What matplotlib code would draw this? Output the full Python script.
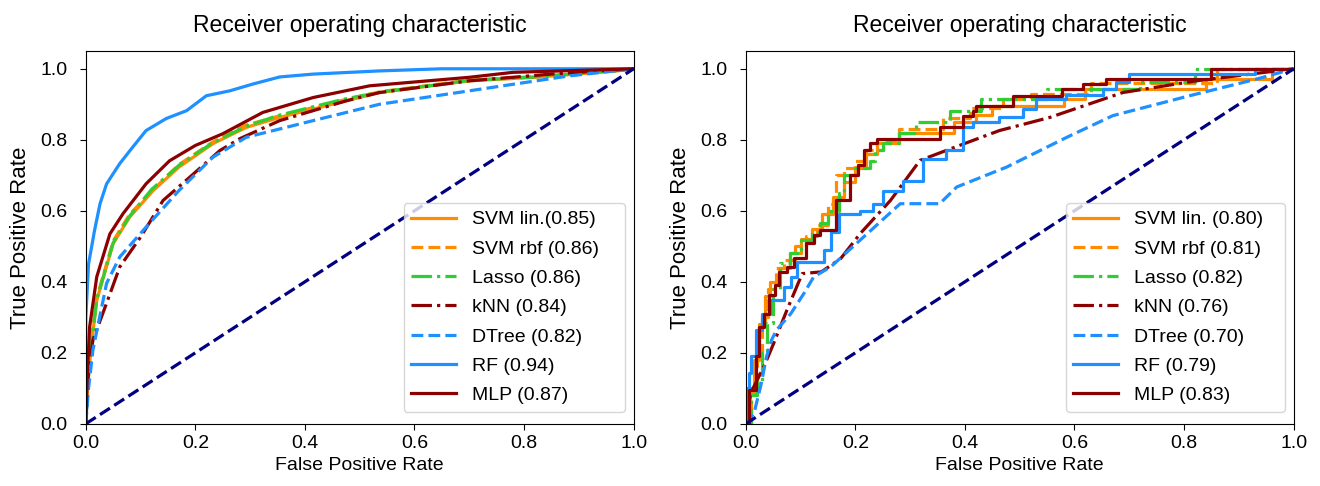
import numpy as np
import matplotlib
matplotlib.use('Agg')
import matplotlib.pyplot as plt

plt.rcParams['font.family'] = ['Liberation Sans', 'DejaVu Sans']

title = 'Receiver operating characteristic'

# ---- left panel: (fpr, tpr) ----
left_labels = ['SVM lin.(0.85)', 'SVM rbf (0.86)', 'Lasso (0.86)', 'kNN (0.84)',
               'DTree (0.82)', 'RF (0.94)', 'MLP (0.87)']

left_svm_lin_fpr = [0, .003, .01, .02, .05, .08, .123, .17, .232, .293, .354, .476, .536, .7, .82, .97, 1]
left_svm_lin_tpr = [0, .1, .22, .348, .508, .582, .657, .723, .789, .835, .863, .91, .933, .966, .976, .994, 1]
left_svm_rbf_fpr = [0, .003, .01, .02, .05, .08, .125, .17, .23, .29, .35, .47, .54, .7, .82, .97, 1]
left_svm_rbf_tpr = [0, .11, .23, .355, .515, .59, .662, .73, .792, .84, .866, .912, .936, .968, .978, .995, 1]
left_lasso_fpr = [0, .003, .01, .02, .05, .08, .12, .17, .23, .29, .35, .47, .54, .7, .82, .97, 1]
left_lasso_tpr = [0, .1, .22, .35, .51, .585, .66, .728, .79, .836, .868, .914, .935, .967, .977, .995, 1]
left_knn_fpr = [0, .005, .013, .038, .062, .1, .141, .19, .245, .281, .354, .476, .536, .7, .85, 1]
left_knn_tpr = [0, .15, .236, .34, .442, .526, .629, .695, .77, .803, .854, .91, .933, .966, .985, 1]
left_dtree_fpr = [0, .005, .013, .038, .062, .11, .17, .232, .293, .415, .536, .64, .761, .883, 1]
left_dtree_tpr = [0, .1, .208, .396, .47, .554, .657, .751, .807, .854, .9, .924, .952, .98, 1]
left_rf_fpr = [0, 0, .005, .016, .026, .038, .062, .086, .11, .147, .184, .22, .263, .305, .354, .415, .536, .65, 1]
left_rf_tpr = [0, .3, .45, .545, .62, .676, .733, .78, .826, .86, .882, .924, .938, .957, .977, .985, .994, 1, 1]
left_mlp_fpr = [0, .003, .007, .02, .044, .068, .11, .153, .2, .25, .323, .415, .518, .7, .78, 1]
left_mlp_tpr = [0, .15, .273, .414, .535, .592, .676, .741, .784, .817, .877, .919, .952, .976, .99, 1]

# ---- right panel: step points (fpr where tpr jumps, new tpr) ----
right_labels = ['SVM lin. (0.80)', 'SVM rbf (0.81)', 'Lasso (0.82)', 'kNN (0.76)',
                'DTree (0.70)', 'RF (0.79)', 'MLP (0.83)']

right_svm_lin_fpr = [0, .008, .015, .025, .035, .045, .06, .08, .1, .12, .14, .16, .18, .2, .22, .24, .28, .38, .42, .45, .58, .62, .84, .96, 1]
right_svm_lin_tpr = [0, .08, .18, .28, .36, .40, .44, .48, .52, .55, .59, .64, .68, .72, .76, .79, .82, .85, .87, .896, .915, .943, .97, 1, 1]
right_svm_rbf_fpr = [0, .01, .02, .03, .04, .055, .07, .09, .11, .13, .15, .165, .18, .2, .22, .25, .28, .36, .41, .47, .52, .63, .86, 1]
right_svm_rbf_tpr = [0, .1, .2, .3, .38, .44, .46, .5, .53, .56, .62, .7, .72, .74, .77, .8, .83, .86, .89, .915, .93, .96, 1, 1]
right_lasso_fpr = [0, .01, .02, .03, .038, .05, .062, .08, .1, .12, .135, .15, .17, .18, .2, .226, .235, .25, .28, .31, .372, .43, .55, .72, .82, 1]
right_lasso_tpr = [0, .08, .115, .2, .284, .38, .452, .48, .517, .54, .565, .6, .65, .7, .72, .74, .77, .79, .82, .85, .88, .915, .943, .962, 1, 1]
right_knn_fpr = [0, .005, .009, .033, .051, .075, .103, .138, .173, .209, .264, .318, .39, .463, .555, .688, .822, 1]
right_knn_tpr = [0, .05, .087, .161, .227, .32, .423, .428, .465, .536, .629, .742, .784, .826, .863, .933, .966, 1]
right_dtree_fpr = [0, .015, .027, .038, .047, .056, .082, .106, .124, .155, .202, .282, .354, .385, .476, .59, .67, .81, .93, 1]
right_dtree_tpr = [0, .03, .105, .19, .236, .264, .31, .367, .414, .442, .508, .62, .62, .667, .723, .81, .868, .924, .97, 1]
right_rf_fpr = [0, .003, .005, .01, .018, .03, .045, .069, .082, .094, .142, .155, .17, .209, .232, .25, .287, .323, .366, .396, .415, .463, .506, .53, .585, .652, .676, .70, .93, 1]
right_rf_tpr = [0, .1, .143, .19, .264, .31, .348, .386, .414, .456, .489, .54, .592, .6, .62, .657, .685, .747, .77, .835, .849, .863, .887, .915, .926, .943, .962, .985, 1, 1]
right_mlp_fpr = [0, .005, .018, .024, .033, .042, .054, .06, .075, .088, .109, .124, .136, .165, .19, .205, .215, .226, .24, .354, .397, .415, .421, .488, .578, .615, .658, .85, 1]
right_mlp_tpr = [0, .095, .19, .273, .31, .362, .39, .428, .442, .466, .508, .531, .545, .63, .70, .73, .77, .79, .802, .835, .868, .882, .896, .924, .943, .957, .971, 1, 1]

styles = [dict(color='darkorange', linestyle='-'),
          dict(color='darkorange', linestyle='--'),
          dict(color='limegreen', linestyle='-.'),
          dict(color='darkred', linestyle='-.'),
          dict(color='dodgerblue', linestyle='--'),
          dict(color='dodgerblue', linestyle='-'),
          dict(color='darkred', linestyle='-')]

left_curves = [(left_svm_lin_fpr, left_svm_lin_tpr), (left_svm_rbf_fpr, left_svm_rbf_tpr),
               (left_lasso_fpr, left_lasso_tpr), (left_knn_fpr, left_knn_tpr),
               (left_dtree_fpr, left_dtree_tpr), (left_rf_fpr, left_rf_tpr),
               (left_mlp_fpr, left_mlp_tpr)]
right_curves = [(right_svm_lin_fpr, right_svm_lin_tpr), (right_svm_rbf_fpr, right_svm_rbf_tpr),
                (right_lasso_fpr, right_lasso_tpr), (right_knn_fpr, right_knn_tpr),
                (right_dtree_fpr, right_dtree_tpr), (right_rf_fpr, right_rf_tpr),
                (right_mlp_fpr, right_mlp_tpr)]
# kNN and DTree on the right are drawn as straight segments, the rest as steps
right_steps = [True, True, True, False, False, True, True]

fig = plt.figure(figsize=(13.2, 4.86), dpi=100)
ax1 = fig.add_axes([0.065, 0.128, 0.415, 0.767])
ax2 = fig.add_axes([0.565, 0.128, 0.415, 0.767])


def draw_panel(ax, curves, labels, steps, legend_box):
    for (fpr, tpr), lab, st, stp in zip(curves, labels, styles, steps):
        ax.plot(fpr, tpr, lw=2.3, label=lab, drawstyle='steps-post' if stp else 'default', **st)
    ax.plot([0, 1], [0, 1], color='navy', lw=2.3, linestyle='--')
    ax.set_xlim([0.0, 1.0])
    ax.set_ylim([0.0, 1.05])
    ax.set_xticks(np.arange(0, 1.01, 0.2))
    ax.set_yticks(np.arange(0, 1.01, 0.2))
    ax.tick_params(labelsize=14, length=4.5)
    ax.tick_params(axis='y', pad=8.5)
    ax.set_xlabel('False Positive Rate', fontsize=14)
    ax.set_ylabel('True Positive Rate', fontsize=16, labelpad=7)
    ax.set_title(title, fontsize=16.5, pad=14)
    ax.legend(loc='lower left', bbox_to_anchor=legend_box, mode='expand', borderaxespad=0,
              fontsize=14, handlelength=2.3, labelspacing=0.6)


draw_panel(ax1, left_curves, left_labels, [False] * 7, (0.580, 0.032, 0.404, 0.5))
draw_panel(ax2, right_curves, right_labels, right_steps, (0.584, 0.032, 0.401, 0.5))

plt.savefig('out.png', dpi=100)
